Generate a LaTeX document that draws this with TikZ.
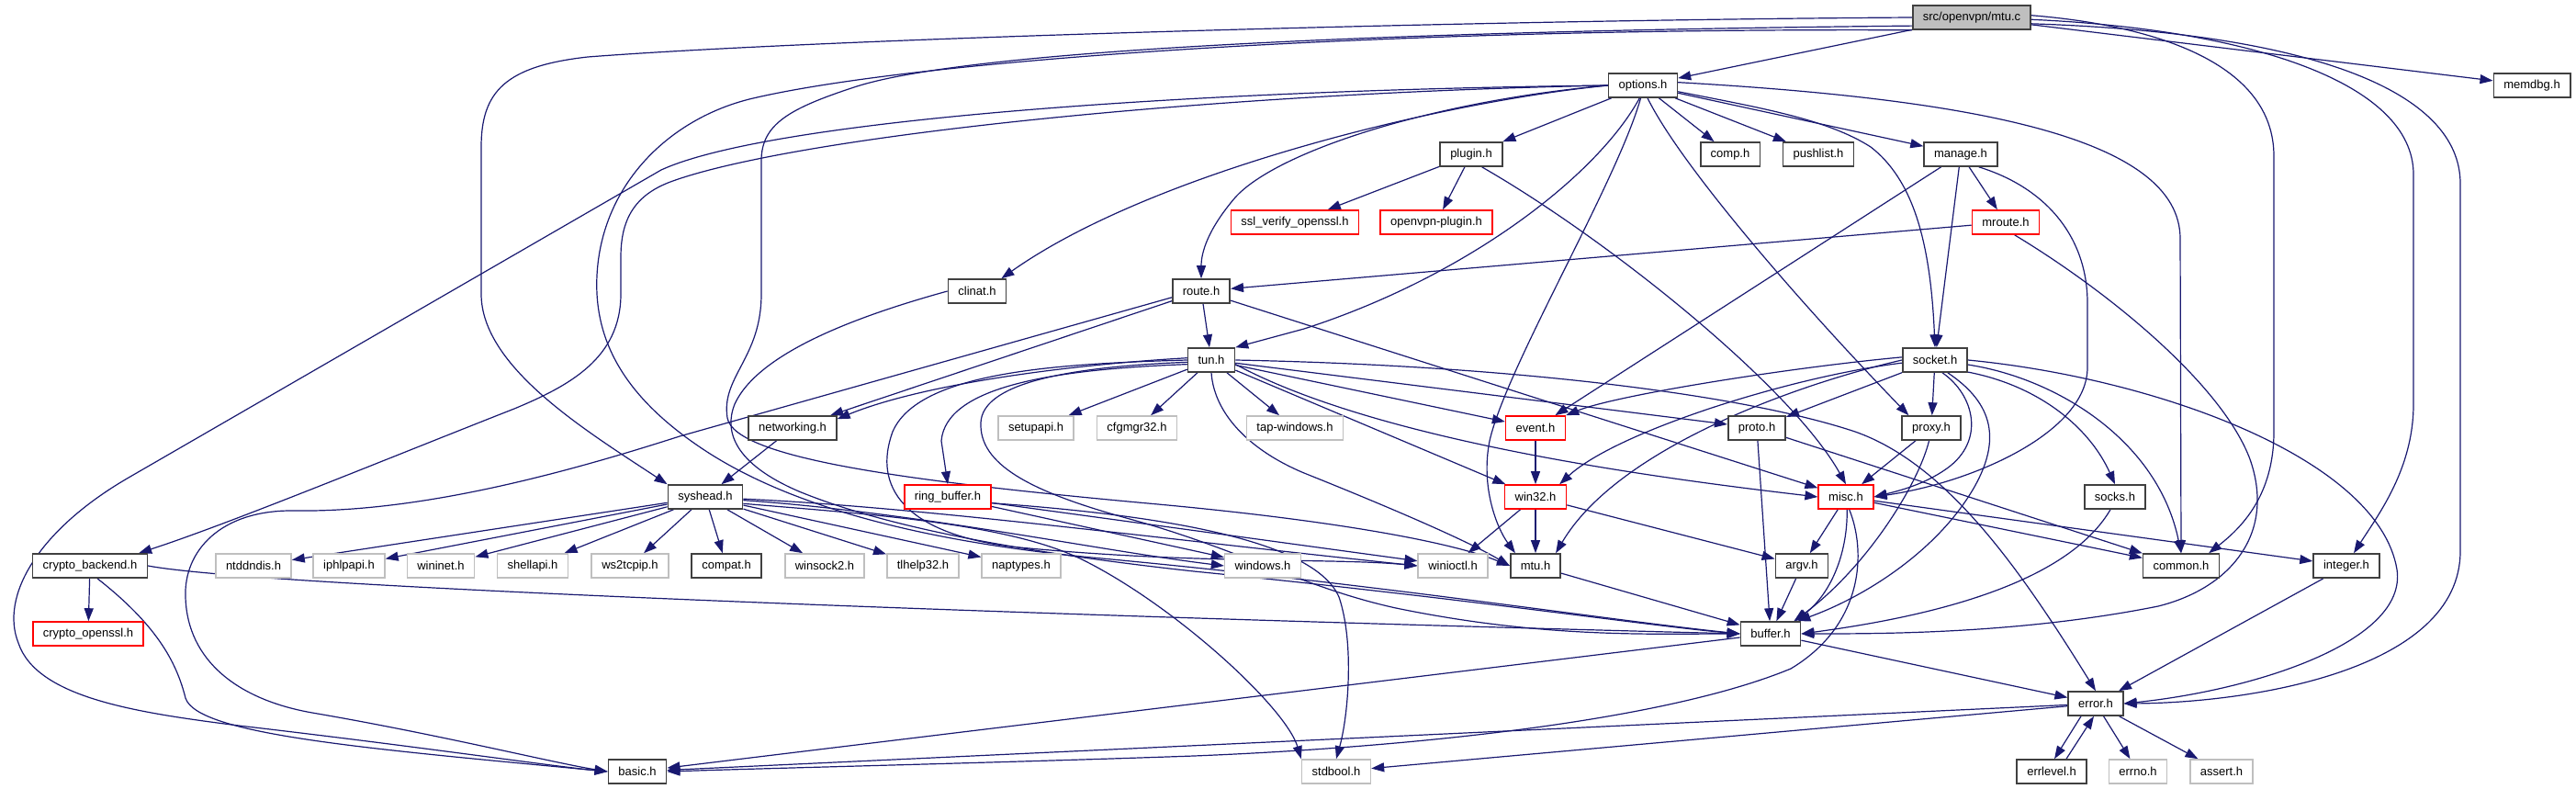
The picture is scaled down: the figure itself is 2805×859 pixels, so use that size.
\documentclass[tikz,border=0pt]{standalone}
\usepackage{fontspec}
\setmainfont{Liberation Sans}
\usetikzlibrary{arrows.meta,calc,backgrounds}
\definecolor{edgec}{HTML}{191970}
\definecolor{gbord}{HTML}{BFBFBF}
\definecolor{rootfill}{HTML}{BFBFBF}
\definecolor{rbord}{HTML}{FF0000}
\definecolor{bbord}{HTML}{404040}
\begin{document}
\begin{tikzpicture}[x=1pt,y=-1pt,
 box/.style={rectangle, minimum height=26pt, inner xsep=11pt, inner ysep=0pt, font=\fontsize{13}{15}\selectfont, line width=1.6pt, fill=white},
 nb/.style={box, draw=bbord},
 ng/.style={box, draw=gbord},
 nr/.style={box, draw=rbord},
 nroot/.style={box, draw=bbord, fill=rootfill},
 e/.style={draw=edgec, line width=1.2pt, -{Triangle[length=14pt,width=10pt]}}]
\useasboundingbox (0,0) rectangle (2805,859);

\node[nroot] (root) at (2147,19) {src/openvpn/mtu.c};
\node[nb] (options) at (1789,93) {options.h};
\node[nb] (memdbg) at (2757,93) {memdbg.h};
\node[nb] (plugin) at (1602,168) {plugin.h};
\node[nb] (comp) at (1884,168) {comp.h};
\node[nb] (pushlist) at (1980,168) {pushlist.h};
\node[nb] (manage) at (2135,168) {manage.h};
\node[nr] (sslv) at (1410,242) {ssl\_verify\_openssl.h};
\node[nr] (ovplug) at (1564,242) {openvpn-plugin.h};
\node[nr] (mroute) at (2184,242) {mroute.h};
\node[nb] (clinat) at (1064,317) {clinat.h};
\node[nb] (route) at (1308,317) {route.h};
\node[nb] (tun) at (1319,392) {tun.h};
\node[nb] (socket) at (2107,392) {socket.h};
\node[nb] (networking) at (863,466) {networking.h};
\node[ng] (setupapi) at (1128,466) {setupapi.h};
\node[ng] (cfgmgr) at (1238,466) {cfgmgr32.h};
\node[ng] (tapwin) at (1410,466) {tap-windows.h};
\node[nr] (event) at (1672,466) {event.h};
\node[nb] (proto) at (1913,466) {proto.h};
\node[nb] (proxy) at (2103,466) {proxy.h};
\node[nb] (syshead) at (768,541) {syshead.h};
\node[nr] (ringbuf) at (1032,541) {ring\_buffer.h};
\node[nr] (win32) at (1672,541) {win32.h};
\node[nr] (misc) at (2010,541) {misc.h};
\node[nb] (socks) at (2303,541) {socks.h};
\node[nb] (cryptob) at (98,616) {crypto\_backend.h};
\node[ng] (ntddndis) at (276,616) {ntddndis.h};
\node[ng] (iphlpapi) at (380,616) {iphlpapi.h};
\node[ng] (wininet) at (480,616) {wininet.h};
\node[ng] (shellapi) at (580,616) {shellapi.h};
\node[ng] (ws2tcpip) at (686,616) {ws2tcpip.h};
\node[nb] (compat) at (791,616) {compat.h};
\node[ng] (winsock) at (898,616) {winsock2.h};
\node[ng] (tlhelp) at (1005,616) {tlhelp32.h};
\node[ng] (naptypes) at (1112,616) {naptypes.h};
\node[ng] (windows) at (1375,616) {windows.h};
\node[ng] (winioctl) at (1582,616) {winioctl.h};
\node[nb] (mtu) at (1672,616) {mtu.h};
\node[nb] (argv) at (1962,616) {argv.h};
\node[nb] (common) at (2375,616) {common.h};
\node[nb] (integer) at (2555,616) {integer.h};
\node[nr] (cryptoo) at (96,690) {crypto\_openssl.h};
\node[nb] (buffer) at (1928,690) {buffer.h};
\node[nb] (error) at (2282,766) {error.h};
\node[nb] (basic) at (694,840) {basic.h};
\node[ng] (stdbool) at (1455,840) {stdbool.h};
\node[nb] (errlevel) at (2234,840) {errlevel.h};
\node[ng] (errno) at (2328,840) {errno.h};
\node[ng] (assert) at (2419,840) {assert.h};

\begin{pgfonlayer}{background}
% mtu.c
\draw[e] (root) -- (options);
\draw[e] (root) -- (memdbg);
\draw[e] (root.west) .. controls (1600,22) and (900,42) .. (640,62) .. controls (550,72) and (524,100) .. (524,160) -- (524,320) .. controls (524,400) and (640,470) .. (syshead.north west);
\draw[e] (root.2) .. controls (2350,28) and (2476,70) .. (2476,170) -- (2476,470) .. controls (2476,540) and (2440,575) .. ($(common.north east)+(-12,0)$);
\draw[e] (root.-2) .. controls (2450,32) and (2628,90) .. (2628,190) -- (2628,440) .. controls (2628,510) and (2590,560) .. ($(integer.north)+(8,0)$);
\draw[e] (root.-6) .. controls (2520,36) and (2679,100) .. (2679,200) -- (2679,600) .. controls (2679,730) and (2450,765) .. (error.east);
\draw[e] (root.-172) .. controls (1500,34) and (1050,55) .. (930,95) .. controls (860,118) and (829,135) .. (829,175) -- (829,320) .. controls (829,390) and (785,410) .. (792,455) .. controls (800,500) and (1000,525) .. (1250,548) .. controls (1450,566) and (1580,590) .. (mtu.west);
\draw[e] (root.-168) .. controls (1500,30) and (1000,65) .. (820,107) .. controls (730,128) and (655,200) .. (650,300) .. controls (646,380) and (690,440) .. (770,492) .. controls (860,550) and (1000,590) .. (1200,608) .. controls (1500,636) and (1750,675) .. (buffer.west);
% options
\draw[e] (options) -- (plugin);
\draw[e] (options) -- (comp);
\draw[e] (options) -- (pushlist);
\draw[e] (options) -- (manage);
\draw[e] (options.-10) .. controls (1920,118) and (1990,130) .. (2037,160) .. controls (2082,195) and (2102,260) .. (socket.north);
\draw[e] (options.5) .. controls (2150,108) and (2374,150) .. (2374,260) -- (common.north);
\draw[e] (options.-70) .. controls (1830,180) and (1960,330) .. ($(proxy.north west)+(8,0)$);
\draw[e] (options.west) .. controls (1560,110) and (1390,165) .. (1345,215) .. controls (1315,250) and (1308,275) .. (route.north);
\draw[e] (options.west) .. controls (1560,112) and (1250,190) .. ($(clinat.north east)+(-6,0)$);
\draw[e] (options.west) .. controls (1300,98) and (840,130) .. (720,185) -- (140,520) .. controls (40,578) and (0,650) .. (20,700) .. controls (40,760) and (150,776) .. (260,790) .. controls (450,812) and (600,834) .. (basic.west);
\draw[e] (options.west) .. controls (1300,102) and (860,150) .. (730,198) .. controls (690,213) and (676,240) .. (676,280) -- (676,320) .. controls (676,390) and (620,420) .. (560,445) .. controls (420,500) and (250,570) .. ($(cryptob.north east)+(-10,0)$);
\draw[e] (options.-100) .. controls (1760,200) and (1640,400) .. (1622,480) .. controls (1612,530) and (1630,575) .. ($(mtu.north west)+(6,0)$);
\draw[e] (options.-105) .. controls (1740,190) and (1600,300) .. (1420,358) -- (tun.north east);
% plugin
\draw[e] (plugin) -- (sslv);
\draw[e] (plugin) -- (ovplug);
\draw[e] (plugin.-50) .. controls (1750,260) and (1950,420) .. (misc.north);
% manage
\draw[e] (manage) -- (mroute);
\draw[e] (manage) -- (socket);
\draw[e] (manage) -- (event);
\draw[e] (manage.-35) .. controls (2230,205) and (2273,260) .. (2273,330) -- (2273,400) .. controls (2273,470) and (2150,525) .. (misc.east);
% mroute
\draw[e] (mroute) -- (route);
\draw[e] (mroute.-55) .. controls (2300,320) and (2420,420) .. (2450,500) .. controls (2478,580) and (2430,640) .. (2350,660) .. controls (2200,690) and (2050,690) .. (buffer.east);
% clinat
\draw[e] (clinat.west) .. controls (930,345) and (825,385) .. (800,440) .. controls (788,470) and (800,505) .. (870,535) .. controls (960,572) and (1100,600) .. (1300,622) .. controls (1600,652) and (1800,682) .. (buffer.west);
% route
\draw[e] (route) -- (tun);
\draw[e] (route) -- (networking);
\draw[e] (route) -- (misc);
\draw[e] (route.-168) -- (740,475) .. controls (600,520) and (450,558) .. (320,556) .. controls (240,555) and (200,600) .. (202,650) .. controls (204,720) and (260,762) .. (340,776) .. controls (480,800) and (600,830) .. (basic.west);
% tun
\draw[e] (tun.175) .. controls (1150,398) and (1000,420) .. ($(networking.north east)+(0,4)$);
\draw[e] (tun) -- (setupapi);
\draw[e] (tun) -- (cfgmgr);
\draw[e] (tun) -- (tapwin);
\draw[e] (tun) -- (event);
\draw[e] (tun) -- (proto);
\draw[e] (tun.-10) .. controls (1500,480) and (1800,520) .. (misc.west);
\draw[e] (tun) -- (win32);
\draw[e] (tun.east) .. controls (1650,398) and (1900,430) .. (2020,470) .. controls (2120,505) and (2200,620) .. (error.north);
\draw[e] (tun.south) .. controls (1322,450) and (1360,490) .. (1420,515) .. controls (1520,555) and (1600,590) .. (mtu.west);
\draw[e] (tun.-170) .. controls (1150,402) and (1030,420) .. (1025,480) -- (ringbuf.north);
\draw[e] (tun.180) .. controls (1150,396) and (1000,405) .. (972,470) .. controls (950,530) and (985,580) .. (1100,595) .. controls (1300,615) and (1450,607) .. (winioctl.west);
\draw[e] (tun.-175) .. controls (1150,400) and (1070,420) .. (1068,460) .. controls (1066,505) and (1120,535) .. (1230,565) .. controls (1350,598) and (1420,640) .. (1520,662) .. controls (1680,695) and (1800,690) .. (buffer.west);
% ring_buffer
\draw[e] (ringbuf) -- (windows);
\draw[e] (ringbuf) -- (winioctl);
\draw[e] (ringbuf.-8) .. controls (1250,560) and (1430,585) .. (1458,650) .. controls (1475,700) and (1468,780) .. (stdbool.north);
% socket
\draw[e] (socket) -- (proto);
\draw[e] (socket) -- (proxy);
\draw[e] (socket.-60) .. controls (2150,430) and (2162,480) .. (2120,510) .. controls (2095,528) and (2065,535) .. (misc.east);
\draw[e] (socket.-45) .. controls (2172,440) and (2178,480) .. (2150,530) .. controls (2110,600) and (2030,650) .. ($(buffer.north east)+(-4,0)$);
\draw[e] (socket.-20) .. controls (2220,420) and (2275,465) .. (socks.north);
\draw[e] (socket.-8) .. controls (2240,412) and (2350,480) .. (common.north);
\draw[e] (socket.east) .. controls (2350,412) and (2590,500) .. (2610,620) .. controls (2622,700) and (2450,752) .. (error.east);
\draw[e] (socket.west) .. controls (1950,420) and (1760,490) .. ($(mtu.north east)+(-6,0)$);
\draw[e] (socket.-175) .. controls (1950,410) and (1760,470) .. ($(win32.north east)+(-8,0)$);
\draw[e] (socket.175) .. controls (1950,400) and (1760,430) .. (event.north east);
% proxy, proto
\draw[e] (proxy) -- (misc);
\draw[e] (proxy.-100) .. controls (2088,530) and (2030,620) .. ($(buffer.north east)+(-8,0)$);
\draw[e] (proto) -- (buffer);
\draw[e] (proto) -- (common);
% event, win32
\draw[e] (event) -- (win32);
\draw[e] (win32) -- (mtu);
\draw[e] (win32) -- (winioctl);
\draw[e] (win32) -- (argv);
% misc
\draw[e] (misc) -- (argv);
\draw[e] (misc.-85) .. controls (2012,600) and (1995,645) .. ($(buffer.north)+(27,0)$);
\draw[e] (misc.-75) .. controls (2032,600) and (2030,680) .. (1950,728) .. controls (1800,790) and (1500,815) .. (1300,823) .. controls (1100,830) and (850,836) .. (basic.east);
\draw[e] (misc) -- (common);
\draw[e] (misc) -- (integer);
% lower
\draw[e] (argv) -- (buffer);
\draw[e] (mtu) -- (buffer);
\draw[e] (socks.-110) .. controls (2260,620) and (2150,665) .. (buffer.east);
\draw[e] (integer) -- (error);
\draw[e] (buffer) -- (error);
\draw[e] (buffer) -- (basic);
\draw[e] ($(error.south)+(-16,0)$) -- ($(errlevel.north)+(3,0)$);
\draw[e] ($(errlevel.north)+(16,0)$) -- ($(error.south)+(-2,0)$);
\draw[e] (error) -- (errno);
\draw[e] (error) -- (assert);
\draw[e] (error) -- (basic);
\draw[e] (error) -- (stdbool);
% crypto
\draw[e] (cryptob) -- (cryptoo);
\draw[e] (cryptob.-60) .. controls (170,680) and (192,720) .. (202,760) .. controls (215,800) and (400,815) .. (basic.west);
\draw[e] (cryptob.east) .. controls (300,642) and (1300,675) .. (buffer.west);
% networking, syshead
\draw[e] (networking) -- (syshead);
\draw[e] (syshead) -- (ntddndis);
\draw[e] (syshead) -- (iphlpapi);
\draw[e] (syshead) -- (wininet);
\draw[e] (syshead) -- (shellapi);
\draw[e] (syshead) -- (ws2tcpip);
\draw[e] (syshead) -- (compat);
\draw[e] (syshead) -- (winsock);
\draw[e] (syshead) -- (tlhelp);
\draw[e] (syshead) -- (naptypes);
\draw[e] (syshead.-5) .. controls (1000,558) and (1200,600) .. (windows.west);
\draw[e] (syshead.-3) .. controls (1000,552) and (1250,585) .. (winioctl.west);
\draw[e] (syshead.-10) .. controls (950,560) and (1100,570) .. (1180,610) .. controls (1280,660) and (1400,770) .. (stdbool.north west);
\end{pgfonlayer}
\end{tikzpicture}
\end{document}
